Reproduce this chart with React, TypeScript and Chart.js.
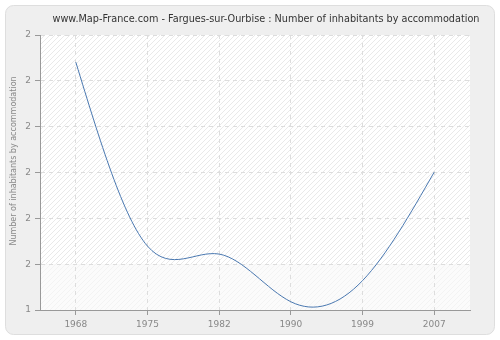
import React, { useEffect, useRef } from "react";
import { Chart, registerables } from "chart.js";

Chart.register(...registerables);

const TITLE = "www.Map-France.com - Fargues-sur-Ourbise : Number of inhabitants by accommodation";
const Y_TITLE = "Number of inhabitants by accommodation";
const YEARS = ["1968", "1975", "1982", "1990", "1999", "2007"];
const VALUES = [2.211, 1.609, 1.583, 1.427, 1.496, 1.851];
const Y_TICKS = [1.4, 1.55, 1.7, 1.85, 2.0, 2.15, 2.3];

function makePattern(ctx: CanvasRenderingContext2D, fg: string, bg: string) {
  const c = document.createElement("canvas");
  c.width = 5;
  c.height = 5;
  const p = c.getContext("2d")!;
  p.fillStyle = bg;
  p.fillRect(0, 0, 5, 5);
  p.fillStyle = fg;
  for (let i = 0; i < 5; i++) p.fillRect(i, 4 - i, 1, 1);
  return ctx.createPattern(c, "repeat")!;
}

// Natural cubic spline control points computed from the points' scale pixels
const splinePlugin = {
  id: "splinePlugin",
  beforeDatasetsDraw(chart: any) {
    const meta = chart.getDatasetMeta(0);
    const pts = meta.data;
    const line = meta.dataset;
    const n = pts.length;
    if (n < 3) return;
    const xs = pts.map((p: any) => p.x);
    const ys = pts.map((p: any) => p.y);
    const h: number[] = [];
    for (let i = 0; i < n - 1; i++) h.push(xs[i + 1] - xs[i]);
    // solve tridiagonal system for second derivatives
    const a = new Array(n).fill(0);
    const b = new Array(n).fill(0);
    const c = new Array(n).fill(0);
    const d = new Array(n).fill(0);
    b[0] = 1;
    b[n - 1] = 1;
    for (let i = 1; i < n - 1; i++) {
      a[i] = h[i - 1];
      b[i] = 2 * (h[i - 1] + h[i]);
      c[i] = h[i];
      d[i] = 6 * ((ys[i + 1] - ys[i]) / h[i] - (ys[i] - ys[i - 1]) / h[i - 1]);
    }
    for (let i = 1; i < n; i++) {
      const m = a[i] / b[i - 1];
      b[i] -= m * c[i - 1];
      d[i] -= m * d[i - 1];
    }
    const M = new Array(n).fill(0);
    M[n - 1] = d[n - 1] / b[n - 1];
    for (let i = n - 2; i >= 0; i--) M[i] = (d[i] - c[i] * M[i + 1]) / b[i];
    for (let i = 0; i < n - 1; i++) {
      const hi = h[i];
      const s = (ys[i + 1] - ys[i]) / hi;
      const d0 = s - (hi * (2 * M[i] + M[i + 1])) / 6;
      const d1 = s + (hi * (M[i] + 2 * M[i + 1])) / 6;
      pts[i].cp2x = xs[i] + hi / 3;
      pts[i].cp2y = ys[i] + (d0 * hi) / 3;
      pts[i + 1].cp1x = xs[i + 1] - hi / 3;
      pts[i + 1].cp1y = ys[i + 1] - (d1 * hi) / 3;
    }
    pts[0].cp1x = xs[0];
    pts[0].cp1y = ys[0];
    pts[n - 1].cp2x = xs[n - 1];
    pts[n - 1].cp2y = ys[n - 1];
    line._pointsUpdated = true;
  },
};

const bgPlugin = {
  id: "bgPlugin",
  beforeDraw(chart: any) {
    const ctx: CanvasRenderingContext2D = chart.ctx;
    const { width, height, chartArea } = chart;
    ctx.save();
    ctx.fillStyle = "#ffffff";
    ctx.fillRect(0, 0, width, height);
    ctx.beginPath();
    (ctx as any).roundRect(5.5, 5.5, width - 11, height - 11, 8);
    ctx.fillStyle = "#efefef";
    ctx.fill();
    ctx.strokeStyle = "#dedede";
    ctx.lineWidth = 1;
    ctx.stroke();
    const { left, right, top, bottom } = chartArea;
    const ys = chart.scales.y;
    const split = ys.getPixelForValue(Y_TICKS[1]);
    ctx.fillStyle = makePattern(ctx, "#e9e9e9", "#ffffff");
    ctx.fillRect(left, top, right - left, split - top);
    ctx.fillStyle = makePattern(ctx, "#f3f3f3", "#fbfbfb");
    ctx.fillRect(left, split, right - left, bottom - split);
    ctx.restore();
  },
  afterDraw(chart: any) {
    const ctx: CanvasRenderingContext2D = chart.ctx;
    ctx.save();
    ctx.font = "9.7px 'DejaVu Sans'";
    ctx.fillStyle = "#333333";
    ctx.textAlign = "center";
    ctx.textBaseline = "alphabetic";
    ctx.fillText(TITLE, 266, 21.5);
    ctx.translate(14, 161);
    ctx.rotate(-Math.PI / 2);
    ctx.font = "8px 'DejaVu Sans'";
    ctx.fillStyle = "#888888";
    ctx.textBaseline = "middle";
    ctx.fillText(Y_TITLE, 0, 0);
    ctx.restore();
  },
};

export default function App() {
  const ref = useRef<HTMLCanvasElement>(null);
  useEffect(() => {
    document.body.style.margin = "0";
    const chart = new Chart(ref.current!, {
      type: "line",
      data: {
        labels: YEARS,
        datasets: [
          {
            data: VALUES,
            borderColor: "#4a78b0",
            borderWidth: 1,
            pointRadius: 0,
            tension: 0.4,
            fill: false,
          },
        ],
      },
      options: {
        responsive: false,
        animation: false,
        layout: { padding: { left: 0, right: 30, top: 35, bottom: 0 } },
        plugins: {
          legend: { display: false },
          tooltip: { enabled: false },
          title: { display: false },
        },
        scales: {
          x: {
            type: "category",
            offset: true,
            grid: { color: "#dddddd", tickColor: "#999999", tickLength: 5, offset: false },
            border: { color: "#999999", dash: [4, 4] },
            ticks: { color: "#888888", font: { family: "'DejaVu Sans'", size: 9 }, padding: 4, maxRotation: 0 },
            afterFit: (s: any) => {
              s.height = 30;
            },
          },
          y: {
            min: Y_TICKS[0],
            max: Y_TICKS[Y_TICKS.length - 1],
            grid: { color: "#dddddd", tickColor: "#999999", tickLength: 5 },
            border: { color: "#999999", dash: [4, 4] },
            afterBuildTicks: (s: any) => {
              s.ticks = Y_TICKS.map((v) => ({ value: v }));
            },
            ticks: {
              color: "#888888",
              font: { family: "'DejaVu Sans'", size: 9 },
              padding: 4,
              callback: (v: any) => String(Math.round(Number(v))),
            },
            afterFit: (s: any) => {
              s.width = 40;
            },
          },
        },
      },
      plugins: [bgPlugin, splinePlugin],
    });
    return () => chart.destroy();
  }, []);
  return <canvas ref={ref} width={500} height={340} style={{ display: "block" }} />;
}
